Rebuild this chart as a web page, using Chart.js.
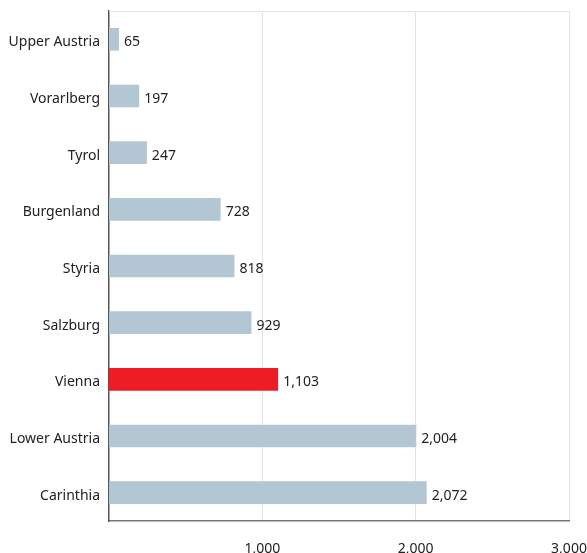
<!DOCTYPE html>
<html>
<head>
<meta charset="utf-8">
<script src="https://cdn.jsdelivr.net/npm/chart.js@4"></script>
<style>
  html, body { margin: 0; padding: 0; background: #fff; }
  #wrap { width: 587px; height: 553px; }
</style>
</head>
<body>
<div id="wrap"><canvas id="grafico" width="587" height="553"></canvas></div>
<script>
const regioes = ['Upper Austria', 'Vorarlberg', 'Tyrol', 'Burgenland', 'Styria', 'Salzburg', 'Vienna', 'Lower Austria', 'Carinthia'];
const valores = [65, 197, 247, 728, 818, 929, 1103, 2004, 2072];
const destaque = 'Vienna';
const ticksX = [1000, 2000, 3000];

const corBarra = '#b3c6d3';
const corDestaque = '#ee1c25';
const fonte = "'Noto Sans', sans-serif";

const fmt = v => v.toLocaleString('en-US');

// rotulos de valor ao lado das barras + linha do topo
const rotulos = {
  id: 'rotulos',
  beforeDatasetsDraw(chart) {
    const { ctx, chartArea } = chart;
    ctx.save();
    ctx.strokeStyle = '#e6e6e6';
    ctx.lineWidth = 1;
    ctx.beginPath();
    ctx.moveTo(chartArea.left, chartArea.top + 0.5);
    ctx.lineTo(chartArea.right, chartArea.top + 0.5);
    ctx.stroke();
    ctx.restore();
  },
  afterDatasetsDraw(chart) {
    const { ctx } = chart;
    const meta = chart.getDatasetMeta(0);
    ctx.save();
    ctx.font = `14px ${fonte}`;
    ctx.fillStyle = '#222';
    ctx.textBaseline = 'middle';
    ctx.textAlign = 'left';
    meta.data.forEach((bar, i) => {
      ctx.fillText(fmt(valores[i]), bar.x + 5, bar.y + 3);
    });
    ctx.restore();
  }
};

new Chart(document.getElementById('grafico'), {
  type: 'bar',
  data: {
    labels: regioes,
    datasets: [{
      data: valores,
      backgroundColor: regioes.map(r => r === destaque ? corDestaque : corBarra),
      barPercentage: 0.4,
      categoryPercentage: 1
    }]
  },
  options: {
    indexAxis: 'y',
    responsive: false,
    animation: false,
    layout: { padding: { top: 11, right: 18, left: 0, bottom: 0 } },
    plugins: { legend: { display: false }, tooltip: { enabled: false } },
    scales: {
      x: {
        min: 0,
        max: 3000,
        afterBuildTicks: s => { s.ticks = ticksX.map(v => ({ value: v })); },
        afterFit: s => { s.height = 32; s.paddingRight = 0; s.paddingLeft = 0; },
        ticks: {
          color: '#222',
          font: { family: fonte, size: 14 },
          padding: 20,
          maxRotation: 0,
          callback: v => fmt(v)
        },
        grid: { color: '#e3e3e3', drawTicks: false },
        border: { color: '#777', width: 1.5 }
      },
      y: {
        afterFit: s => { s.width = 109; s.paddingTop = 0; s.paddingBottom = 0; },
        ticks: {
          color: '#222',
          font: { family: fonte, size: 14 },
          padding: 9,
          labelOffset: 3
        },
        grid: { display: false, drawTicks: false },
        border: { color: '#555', width: 1.5 }
      }
    }
  },
  plugins: [rotulos]
});
</script>
</body>
</html>
